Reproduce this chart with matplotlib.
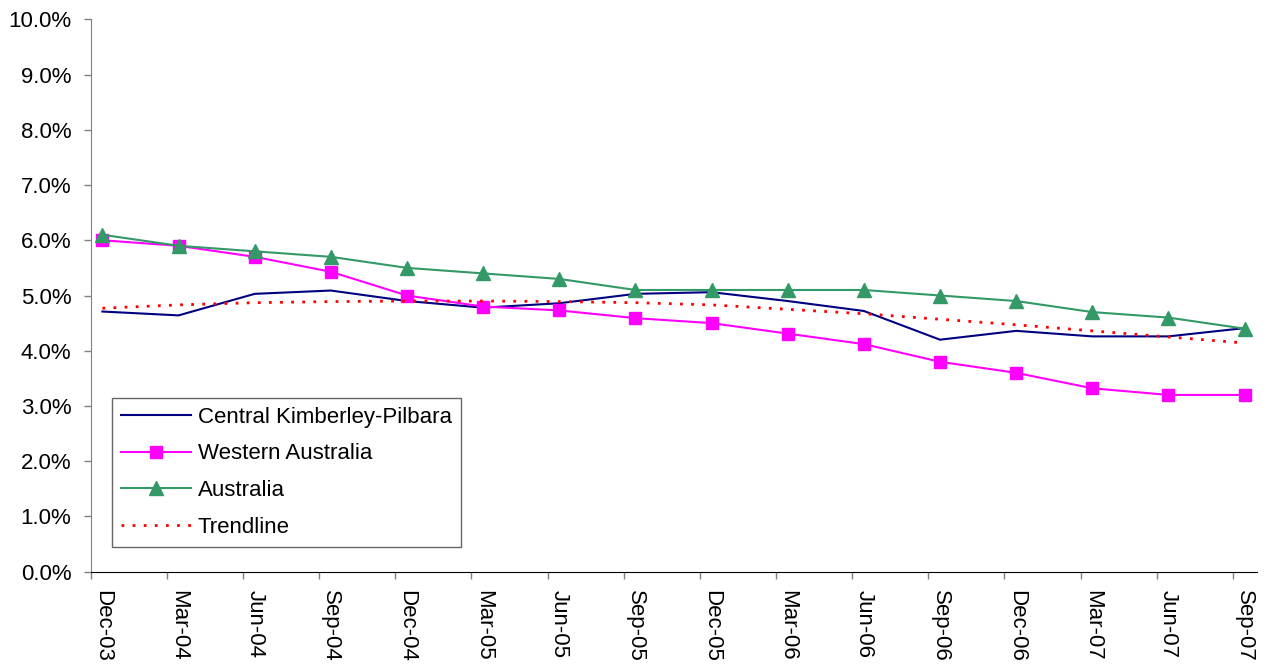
import matplotlib
matplotlib.use("Agg")
import matplotlib.pyplot as plt
import numpy as np
from matplotlib.ticker import FixedLocator, FuncFormatter

plt.rcParams['font.family'] = ['Liberation Sans', 'DejaVu Sans']

# quarters along the x axis
quarters = ['Dec-03', 'Mar-04', 'Jun-04', 'Sep-04', 'Dec-04', 'Mar-05', 'Jun-05', 'Sep-05',
            'Dec-05', 'Mar-06', 'Jun-06', 'Sep-06', 'Dec-06', 'Mar-07', 'Jun-07', 'Sep-07']

# unemployment rate, %
central_kp = [4.71, 4.64, 5.03, 5.09, 4.90, 4.78, 4.86, 5.03,
              5.06, 4.90, 4.72, 4.20, 4.36, 4.26, 4.26, 4.41]
western_aus = [6.00, 5.90, 5.70, 5.43, 5.00, 4.80, 4.73, 4.59,
               4.50, 4.31, 4.12, 3.80, 3.60, 3.32, 3.20, 3.20]
australia = [6.10, 5.90, 5.80, 5.70, 5.50, 5.40, 5.30, 5.10,
             5.10, 5.10, 5.10, 5.00, 4.90, 4.70, 4.60, 4.40]
trendline = [4.77, 4.83, 4.87, 4.89, 4.90, 4.90, 4.89, 4.87,
             4.83, 4.75, 4.67, 4.57, 4.47, 4.36, 4.25, 4.14]

x = np.arange(len(quarters))

fig = plt.figure(figsize=(12.71, 6.66), dpi=100)
ax = fig.add_axes([0.0714, 0.1416, 0.9174, 0.8294])

ax.plot(x, central_kp, color='#000080', lw=1.5, label='Central Kimberley-Pilbara')
ax.plot(x, western_aus, color='#FF00FF', lw=1.5, marker='s', ms=8.5,
        label='Western Australia')
ax.plot(x, australia, color='#339966', lw=1.5, marker='^', ms=10,
        label='Australia')
ax.plot(x, trendline, color='#FF0000', lw=2, linestyle=(0, (1, 3)),
        label='Trendline')

ax.set_xlim(-0.153, 15.16)
ax.set_ylim(0, 10)

ax.yaxis.set_major_locator(FixedLocator(np.arange(0, 10.01, 1)))
ax.yaxis.set_major_formatter(FuncFormatter(lambda v, p: '%.1f%%' % v))
ax.tick_params(axis='y', direction='out', length=5, width=1, color='#808080',
               labelsize=16, pad=9)

ax.set_xticks(x)
ax.set_xticklabels(quarters, rotation=270, fontsize=16)
ax.tick_params(axis='x', which='major', length=0, pad=13)
ax.xaxis.set_minor_locator(FixedLocator(x - 0.153))
ax.tick_params(axis='x', which='minor', direction='out', length=5, width=1,
               color='#808080')

for s in ['top', 'right']:
    ax.spines[s].set_visible(False)
ax.spines['left'].set_color('#808080')
ax.spines['bottom'].set_color('#000000')

leg = ax.legend(loc='lower left', bbox_to_anchor=(0.018, 0.045), borderaxespad=0,
                fontsize=16, fancybox=False, frameon=True, handlelength=3.15,
                handletextpad=0.3, labelspacing=0.7, borderpad=0.42)
leg.get_frame().set_edgecolor('#404040')
leg.get_frame().set_linewidth(1)

fig.savefig('out.png', dpi=100)
